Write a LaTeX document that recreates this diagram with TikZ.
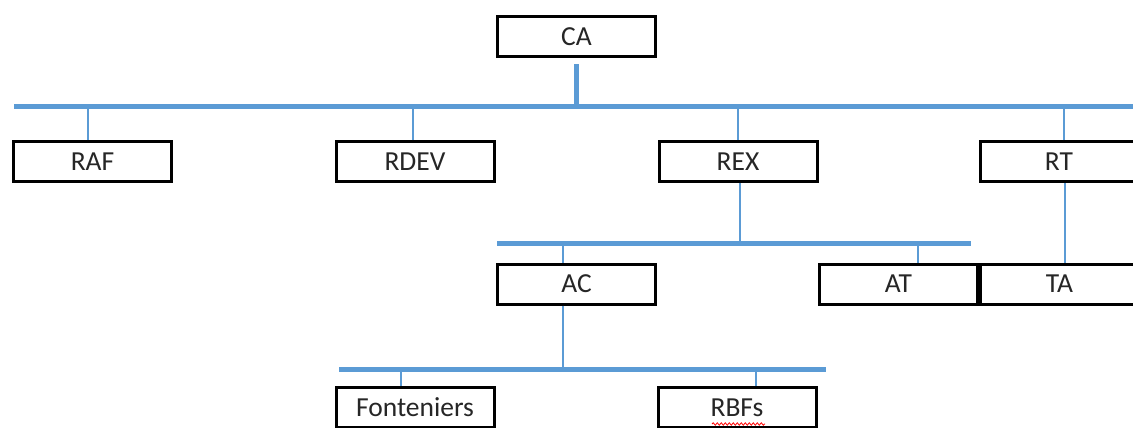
\documentclass[tikz,border=0pt]{standalone}
\usepackage{fontspec}
\setmainfont{Carlito}
\usetikzlibrary{decorations.pathmorphing}
\definecolor{busblue}{HTML}{5B9BD5}
\begin{document}
\begin{tikzpicture}[x=1pt,y=-1pt,
  box/.style={draw=black,line width=3pt,fill=white,minimum width=158pt,minimum height=40pt,inner sep=0pt,font=\fontsize{27.5}{31}\selectfont,text=black!85},
  bus/.style={draw=busblue,line width=5pt},
  stem/.style={draw=busblue,line width=1.6pt}]
\useasboundingbox (0,0) rectangle (1133,428);
% nodes
\node[box] (ca) at (576.5,36.5) {CA};
\node[box] (raf) at (92.5,161.5) {RAF};
\node[box] (rdev) at (415,161.5) {RDEV};
\node[box] (rex) at (738,161.5) {REX};
\node[box] (rt) at (1059,161.5) {RT};
\node[box] (ac) at (576.5,284) {AC};
\node[box] (at) at (898.5,284) {AT};
\node[box] (ta) at (1059.5,284) {TA};
\node[box] (fon) at (415,407.5) {Fonteniers};
\node[box] (rbf) at (737,407.5) {RBFs};
% bus coordinates
\coordinate (b1L) at (14,106);
\coordinate (b1R) at (1135,106);
\coordinate (b2L) at (497,243);
\coordinate (b2R) at (971,243);
\coordinate (b3L) at (339,369);
\coordinate (b3R) at (826,369);
% top level
\draw[bus] (b1L) -- (b1R);
\draw[bus] ([yshift=-6.5pt]ca.south) -- (ca.south |- b1L);
\draw[stem] ([xshift=-4.5pt]raf.north) -- ([xshift=-4.5pt]raf.north |- b1L);
\draw[stem] ([xshift=-2pt]rdev.north) -- ([xshift=-2pt]rdev.north |- b1L);
\draw[stem] (rex.north) -- (rex.north |- b1L);
\draw[stem] ([xshift=5pt]rt.north) -- ([xshift=5pt]rt.north |- b1L);
% second level
\draw[bus] (b2L) -- (b2R);
\draw[stem] ([xshift=2pt]rex.south) -- ([xshift=2pt]rex.south |- b2L);
\draw[stem] ([xshift=-13.5pt]ac.north) -- ([xshift=-13.5pt]ac.north |- b2L);
\draw[stem] ([xshift=19.5pt]at.north) -- ([xshift=19.5pt]at.north |- b2L);
\draw[stem] ([xshift=6pt]rt.south) -- ([xshift=5.5pt]ta.north);
% third level
\draw[bus] (b3L) -- (b3R);
\draw[stem] ([xshift=-13.5pt]ac.south) -- ([xshift=-13.5pt]ac.south |- b3L);
\draw[stem] ([xshift=-14pt]fon.north) -- ([xshift=-14pt]fon.north |- b3L);
\draw[stem] ([xshift=19pt]rbf.north) -- ([xshift=19pt]rbf.north |- b3L);
% spell-check underline
\coordinate (sqL) at (712,424);
\coordinate (sqR) at (765,424);
\draw[red,line width=0.8pt,decorate,decoration={snake,amplitude=1.2pt,segment length=4pt}] (sqL) -- (sqR);
\end{tikzpicture}
\end{document}
